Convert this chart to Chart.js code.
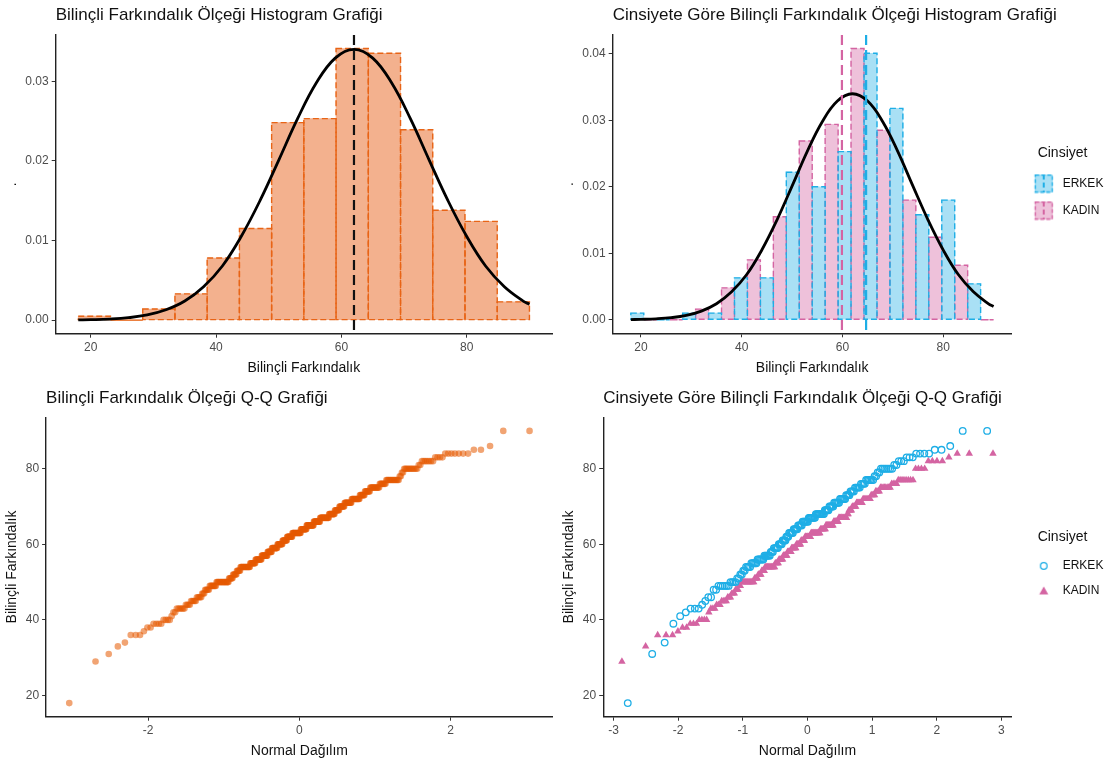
<!DOCTYPE html>
<html>
<head>
<meta charset="utf-8">
<script src="https://cdn.jsdelivr.net/npm/chart.js@4.4.1/dist/chart.umd.min.js"></script>
<style>
html, body { margin: 0; padding: 0; background: #fff; overflow: hidden; width: 1112px; height: 765px; }
canvas { position: absolute; }
</style>
</head>
<body>
<canvas id="histAll" width="556" height="380" style="left:0;top:0"></canvas>
<canvas id="histSex" width="570" height="380" style="left:556px;top:0"></canvas>
<canvas id="qqAll" width="556" height="385" style="left:0;top:380px"></canvas>
<canvas id="qqSex" width="570" height="385" style="left:556px;top:380px"></canvas>
<script>
Chart.defaults.font.family = "'Liberation Sans', Arial, sans-serif";
Chart.defaults.animation = false;
Chart.defaults.color = '#4d4d4d';

// histogram bins: 14 bins between 18 and 90 (midpoints)
const binMids = [20.57, 25.71, 30.86, 36.0, 41.14, 46.29, 51.43, 56.57, 61.71, 66.86, 72.0, 77.14, 82.29, 87.43];
const densAll = [0.0005, 0, 0.0014, 0.0033, 0.0078, 0.0115, 0.0248, 0.0253, 0.0341, 0.0335, 0.0239, 0.0138, 0.0124, 0.0023];
const densErkek = [0.0010, 0, 0.0010, 0.0010, 0.0063, 0.0063, 0.0222, 0.0200, 0.0253, 0.0401, 0.0318, 0.0158, 0.0180, 0.0054];
const densKadin = [0, 0, 0.0016, 0.0048, 0.0090, 0.0155, 0.0269, 0.0294, 0.0408, 0.0285, 0.0180, 0.0124, 0.0082, 0];

// normal curve
const curveX = [18, 20, 23, 26, 29, 32, 35, 38, 41, 44, 47, 50, 53, 56, 59, 62, 65, 68, 71, 74, 77, 80, 83, 86, 89, 90];
const curveY = [0.00003, 0.00006, 0.00014, 0.00031, 0.00065, 0.0013, 0.0024, 0.0042, 0.0068, 0.0105, 0.0150, 0.0201, 0.0253,
                0.0298, 0.0329, 0.0340, 0.0329, 0.0298, 0.0253, 0.0201, 0.0150, 0.0105, 0.0068, 0.0042, 0.0024, 0.0020];

const meanAll = 62.0;
const meanErkek = 64.7;
const meanKadin = 59.9;

// scores and how many people had them
const scoresErkek = [18, 31, 34, 39, 41, 42, 43, 44, 45, 46, 48, 49, 50, 51, 52, 53, 54, 55, 56, 57, 58, 59, 60, 61, 62, 63, 64, 65,
                     66, 67, 68, 69, 70, 71, 72, 73, 74, 75, 76, 77, 78, 79, 80, 81, 82, 83, 84, 85, 86, 90];
const countsErkek = [1, 1, 1, 1, 1, 1, 3, 1, 1, 2, 2, 6, 4, 2, 2, 2, 4, 5, 6, 6, 3, 5, 4, 4, 3, 5, 5, 5,
                     7, 8, 10, 5, 5, 6, 6, 4, 4, 5, 4, 6, 2, 2, 7, 2, 3, 3, 4, 2, 1, 2];
const scoresKadin = [29, 33, 36, 37, 38, 39, 40, 42, 43, 44, 45, 46, 47, 48, 49, 50, 51, 52, 53, 54, 55, 56, 57, 58, 59, 60, 61, 62,
                     63, 64, 65, 66, 67, 68, 69, 70, 71, 72, 73, 74, 75, 76, 77, 80, 82, 83, 84];
const countsKadin = [1, 1, 3, 1, 2, 3, 4, 1, 3, 3, 4, 3, 3, 3, 2, 13, 4, 4, 4, 13, 5, 6, 6, 6, 7, 7, 6, 9,
                     14, 8, 11, 7, 11, 2, 4, 5, 7, 8, 4, 4, 8, 4, 8, 4, 4, 1, 3];

const histXTicks = [20, 40, 60, 80];
const histYTicksAll = [0, 0.01, 0.02, 0.03];
const histYTicksSex = [0, 0.01, 0.02, 0.03, 0.04];
const qqXTicksAll = [-2, 0, 2];
const qqXTicksSex = [-3, -2, -1, 0, 1, 2, 3];
const qqYTicks = [20, 40, 60, 80];

const orange = 'rgb(232,100,22)';
const blue = 'rgb(30,174,230)';
const pink = 'rgb(212,100,162)';

function expand(scores, counts) {
  const out = [];
  scores.forEach((s, i) => { for (let k = 0; k < counts[i]; k++) out.push(s); });
  return out.sort((a, b) => a - b);
}

// inverse normal cdf (Acklam)
function qnorm(p) {
  const a = [-39.69683028665376, 220.9460984245205, -275.9285104469687, 138.3577518672690, -30.66479806614716, 2.506628277459239];
  const b = [-54.47609879822406, 161.5858368580409, -155.6989798598866, 66.80131188771972, -13.28068155288572];
  const c = [-0.007784894002430293, -0.3223964580411365, -2.400758277161838, -2.549732539343734, 4.374664141464968, 2.938163982698783];
  const d = [0.007784695709041462, 0.3224671290700398, 2.445134137142996, 3.754408661907416];
  const pl = 0.02425;
  if (p < pl) {
    const q = Math.sqrt(-2 * Math.log(p));
    return (((((c[0]*q+c[1])*q+c[2])*q+c[3])*q+c[4])*q+c[5]) / ((((d[0]*q+d[1])*q+d[2])*q+d[3])*q+1);
  }
  if (p > 1 - pl) {
    const q = Math.sqrt(-2 * Math.log(1 - p));
    return -(((((c[0]*q+c[1])*q+c[2])*q+c[3])*q+c[4])*q+c[5]) / ((((d[0]*q+d[1])*q+d[2])*q+d[3])*q+1);
  }
  const q = p - 0.5, r = q * q;
  return (((((a[0]*r+a[1])*r+a[2])*r+a[3])*r+a[4])*r+a[5])*q / (((((b[0]*r+b[1])*r+b[2])*r+b[3])*r+b[4])*r+1);
}

function qqPoints(values) {
  const n = values.length;
  return values.map((v, i) => ({ x: qnorm((i + 0.5) / n), y: v }));
}

const panelTitle = {
  id: 'panelTitle',
  afterDraw(chart, args, opts) {
    const ctx = chart.ctx;
    ctx.save();
    ctx.font = "17px 'Liberation Sans', Arial, sans-serif";
    ctx.fillStyle = '#111';
    ctx.textBaseline = 'middle';
    ctx.fillText(opts.text, chart.chartArea.left, opts.y);
    ctx.restore();
  }
};

// ggplot style dashed bar outlines
const dashOutline = {
  id: 'dashOutline',
  afterDatasetDraw(chart, args) {
    const ds = chart.data.datasets[args.index];
    if (!ds.outlineColor) return;
    const ctx = chart.ctx;
    ctx.save();
    ctx.strokeStyle = ds.outlineColor;
    ctx.lineWidth = 1.4;
    ctx.setLineDash([6, 3]);
    args.meta.data.forEach(bar => {
      const p = bar.getProps(['x', 'y', 'base', 'width'], true);
      ctx.beginPath();
      ctx.rect(p.x - p.width / 2, p.y, p.width, p.base - p.y);
      ctx.stroke();
    });
    ctx.restore();
  }
};

const meanLines = {
  id: 'meanLines',
  afterDatasetsDraw(chart, args, opts) {
    const { ctx, chartArea, scales } = chart;
    (opts.lines || []).forEach(m => {
      const x = scales.x.getPixelForValue(m.value);
      ctx.save();
      ctx.strokeStyle = m.color;
      ctx.lineWidth = 2.2;
      ctx.setLineDash([10, 5]);
      ctx.beginPath();
      ctx.moveTo(x, chartArea.top);
      ctx.lineTo(x, chartArea.bottom);
      ctx.stroke();
      ctx.restore();
    });
  }
};

function axis(min, max, ticks, title, fmt) {
  return {
    type: 'linear', min: min, max: max, offset: false,
    afterBuildTicks: s => { s.ticks = ticks.map(v => ({ value: v })); },
    ticks: { color: '#4d4d4d', font: { size: 12 }, padding: 3, callback: fmt || (v => String(v)) },
    grid: { display: true, offset: false, drawOnChartArea: false, drawTicks: true, tickLength: 4, color: '#333' },
    border: { display: true, color: '#222', width: 1.4 },
    title: { display: !!title, text: title, color: '#111', font: { size: 14 }, padding: { top: 2, bottom: 2 } }
  };
}

function histKey(fill, line) {
  const c = document.createElement('canvas');
  c.width = 30; c.height = 20;
  const g = c.getContext('2d');
  g.fillStyle = fill;
  g.fillRect(8, 1, 18, 18);
  g.strokeStyle = line;
  g.lineWidth = 1.4;
  g.setLineDash([4, 2]);
  g.strokeRect(8.5, 1.5, 17, 17);
  g.lineWidth = 2;
  g.setLineDash([5, 3]);
  g.beginPath(); g.moveTo(17, 1); g.lineTo(17, 19); g.stroke();
  return c;
}

function pointKey(kind, color) {
  const c = document.createElement('canvas');
  c.width = 32; c.height = 12;
  const g = c.getContext('2d');
  if (kind === 'circle') {
    g.strokeStyle = color; g.lineWidth = 1.3;
    g.beginPath(); g.arc(19, 6, 3.3, 0, Math.PI * 2); g.stroke();
  } else {
    g.fillStyle = color;
    g.beginPath(); g.moveTo(19, 1.5); g.lineTo(23.5, 9.5); g.lineTo(14.5, 9.5); g.closePath(); g.fill();
  }
  return c;
}

function fitArea(chart, cfg, box) {
  for (let k = 0; k < 3; k++) {
    const a = chart.chartArea, p = cfg.options.layout.padding;
    p.left += box.left - a.left;
    p.right += a.right - box.right;
    p.top += box.top - a.top;
    p.bottom += a.bottom - box.bottom;
    chart.update('none');
  }
}

const fmt2 = v => v.toFixed(2);
const curveData = curveX.map((x, i) => ({ x: x, y: curveY[i] }));
const curveSet = { type: 'line', data: curveData, borderColor: '#000', borderWidth: 2.8, pointRadius: 0, tension: 0.4, fill: false, order: 1 };

// top left: histogram of all
const cfgA = {
  type: 'bar',
  data: {
    datasets: [
      { data: binMids.map((x, i) => ({ x: x, y: densAll[i] })), backgroundColor: 'rgba(231,100,30,0.5)', outlineColor: orange,
        borderWidth: 0, categoryPercentage: 1, barPercentage: 1, order: 2 },
      curveSet
    ]
  },
  options: {
    responsive: false,
    layout: { padding: { left: 0, right: 0, top: 0, bottom: 0 } },
    scales: { x: axis(14.4, 93.6, histXTicks, 'Bilinçli Farkındalık'), y: axis(-0.0017, 0.0358, histYTicksAll, '.', fmt2) },
    plugins: {
      legend: { display: false }, tooltip: { enabled: false },
      panelTitle: { text: 'Bilinçli Farkındalık Ölçeği Histogram Grafiği', y: 15 },
      meanLines: { lines: [{ value: meanAll, color: '#111' }] }
    }
  },
  plugins: [dashOutline, meanLines, panelTitle]
};
const chartA = new Chart(document.getElementById('histAll'), cfgA);
fitArea(chartA, cfgA, { left: 55.7, right: 552, top: 35, bottom: 333.7 });

// top right: histogram by sex
const keyErkek = histKey('rgba(30,174,230,0.38)', blue);
const keyKadin = histKey('rgba(212,100,162,0.4)', pink);
const cfgB = {
  type: 'bar',
  data: {
    datasets: [
      { label: 'ERKEK', data: binMids.map((x, i) => ({ x: x, y: densErkek[i] })), backgroundColor: 'rgba(30,174,230,0.38)', outlineColor: blue,
        borderWidth: 0, categoryPercentage: 1, barPercentage: 1, order: 2 },
      { label: 'KADIN', data: binMids.map((x, i) => ({ x: x, y: densKadin[i] })), backgroundColor: 'rgba(212,100,162,0.4)', outlineColor: pink,
        borderWidth: 0, categoryPercentage: 1, barPercentage: 1, order: 2 },
      Object.assign({}, curveSet, { data: curveData.slice() })
    ]
  },
  options: {
    responsive: false,
    layout: { padding: { left: 0, right: 0, top: 0, bottom: 0 } },
    scales: { x: axis(14.4, 93.6, histXTicks, 'Bilinçli Farkındalık'), y: axis(-0.00204, 0.04284, histYTicksSex, '.', fmt2) },
    plugins: {
      tooltip: { enabled: false },
      legend: {
        display: true, position: 'right', fullSize: false, align: 'center',
        title: { display: true, text: 'Cinsiyet', color: '#111', font: { size: 14 }, padding: { top: 9, bottom: 0 } },
        labels: {
          usePointStyle: true, pointStyleWidth: 30, padding: 15, color: '#111', font: { size: 12 },
          generateLabels: () => [
            { text: 'ERKEK', pointStyle: keyErkek, fillStyle: blue, strokeStyle: blue, lineWidth: 0, hidden: false, datasetIndex: 0, fontColor: '#111' },
            { text: 'KADIN', pointStyle: keyKadin, fillStyle: pink, strokeStyle: pink, lineWidth: 0, hidden: false, datasetIndex: 1, fontColor: '#111' }
          ]
        }
      },
      panelTitle: { text: 'Cinsiyete Göre Bilinçli Farkındalık Ölçeği Histogram Grafiği', y: 15 },
      meanLines: { lines: [{ value: meanKadin, color: pink }, { value: meanErkek, color: blue }] }
    }
  },
  plugins: [dashOutline, meanLines, panelTitle]
};
const chartB = new Chart(document.getElementById('histSex'), cfgB);
fitArea(chartB, cfgB, { left: 56.7, right: 455.7, top: 35, bottom: 333.3 });

// bottom left: Q-Q of all
const allScores = expand(scoresErkek.concat(scoresKadin), countsErkek.concat(countsKadin));
const cfgC = {
  type: 'scatter',
  data: {
    datasets: [
      { data: qqPoints(allScores), backgroundColor: 'rgba(230,90,0,0.55)', borderWidth: 0, pointRadius: 3.3, pointHoverRadius: 3.3 }
    ]
  },
  options: {
    responsive: false,
    layout: { padding: { left: 0, right: 0, top: 0, bottom: 0 } },
    scales: { x: axis(-3.35, 3.35, qqXTicksAll, 'Normal Dağılım'), y: axis(14.4, 93.6, qqYTicks, 'Bilinçli Farkındalık') },
    plugins: {
      legend: { display: false }, tooltip: { enabled: false },
      panelTitle: { text: 'Bilinçli Farkındalık Ölçeği Q-Q Grafiği', y: 18 }
    }
  },
  plugins: [panelTitle]
};
const chartC = new Chart(document.getElementById('qqAll'), cfgC);
fitArea(chartC, cfgC, { left: 46.1, right: 552, top: 37.3, bottom: 336.7 });

// bottom right: Q-Q by sex
const cfgD = {
  type: 'scatter',
  data: {
    datasets: [
      { label: 'ERKEK', data: qqPoints(expand(scoresErkek, countsErkek)), pointStyle: 'circle', backgroundColor: 'rgba(0,0,0,0)',
        borderColor: blue, borderWidth: 1.3, pointRadius: 3.3, pointHoverRadius: 3.3 },
      { label: 'KADIN', data: qqPoints(expand(scoresKadin, countsKadin)), pointStyle: 'triangle', backgroundColor: pink,
        borderColor: pink, borderWidth: 0, pointRadius: 4.3, pointHoverRadius: 4.3 }
    ]
  },
  options: {
    responsive: false,
    layout: { padding: { left: 0, right: 0, top: 0, bottom: 0 } },
    scales: { x: axis(-3.16, 3.16, qqXTicksSex, 'Normal Dağılım'), y: axis(14.4, 93.6, qqYTicks, 'Bilinçli Farkındalık') },
    plugins: {
      tooltip: { enabled: false },
      legend: {
        display: true, position: 'right', fullSize: false, align: 'center',
        title: { display: true, text: 'Cinsiyet', color: '#111', font: { size: 14 }, padding: { top: 6, bottom: 0 } },
        labels: {
          usePointStyle: true, pointStyleWidth: 32, padding: 13, color: '#111', font: { size: 12 },
          generateLabels: () => [
            { text: 'ERKEK', pointStyle: pointKey('circle', blue), fillStyle: blue, strokeStyle: blue, lineWidth: 0, hidden: false, datasetIndex: 0, fontColor: '#111' },
            { text: 'KADIN', pointStyle: pointKey('triangle', pink), fillStyle: pink, strokeStyle: pink, lineWidth: 0, hidden: false, datasetIndex: 1, fontColor: '#111' }
          ]
        }
      },
      panelTitle: { text: 'Cinsiyete Göre Bilinçli Farkındalık Ölçeği Q-Q Grafiği', y: 18 }
    }
  },
  plugins: [panelTitle]
};
const chartD = new Chart(document.getElementById('qqSex'), cfgD);
fitArea(chartD, cfgD, { left: 47.2, right: 455.7, top: 37.3, bottom: 336.7 });
</script>
</body>
</html>
